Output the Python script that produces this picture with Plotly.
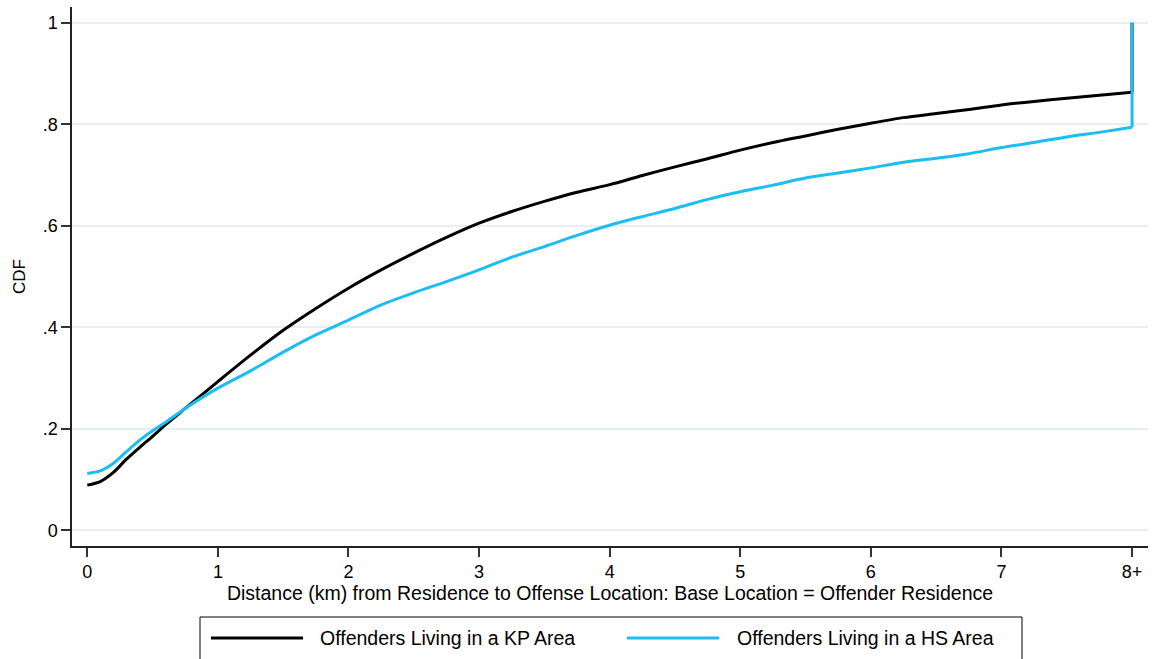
import plotly.graph_objects as go

# Distance grid (km); the last point closes each CDF at the "8+" bin
distance_km = [0.0, 0.1, 0.2, 0.3, 0.4, 0.5, 0.6, 0.75, 1.0, 1.25, 1.5, 1.75, 2.0,
               2.25, 2.5, 2.75, 3.0, 3.25, 3.5, 3.75, 4.0, 4.25, 4.5, 4.75, 5.0,
               5.25, 5.5, 5.75, 6.0, 6.25, 6.5, 6.75, 7.0, 7.25, 7.5, 7.75, 8.0, 8.0]

cdf_kp = [0.089, 0.096, 0.114, 0.140, 0.163, 0.185, 0.208, 0.240, 0.293, 0.345,
          0.394, 0.437, 0.477, 0.513, 0.546, 0.577, 0.605, 0.628, 0.648, 0.666,
          0.681, 0.699, 0.716, 0.732, 0.749, 0.764, 0.777, 0.790, 0.802, 0.813,
          0.821, 0.829, 0.838, 0.845, 0.851, 0.857, 0.863, 1.0]

cdf_hs = [0.112, 0.117, 0.132, 0.155, 0.177, 0.196, 0.213, 0.240, 0.280, 0.314,
          0.351, 0.385, 0.414, 0.444, 0.468, 0.490, 0.513, 0.538, 0.559, 0.581,
          0.601, 0.618, 0.634, 0.652, 0.667, 0.680, 0.694, 0.704, 0.714, 0.725,
          0.733, 0.742, 0.754, 0.764, 0.775, 0.784, 0.794, 1.0]

series_names = ["Offenders Living in a KP Area", "Offenders Living in a HS Area"]
series_colors = ["#000000", "#1cbdf2"]

x_tickvals = [0, 1, 2, 3, 4, 5, 6, 7, 8]
x_ticktext = ["0", "1", "2", "3", "4", "5", "6", "7", "8+"]
y_tickvals = [0, 0.2, 0.4, 0.6, 0.8, 1.0]
y_ticktext = ["0", ".2", ".4", ".6", ".8", "1"]

x_title = "Distance (km) from Residence to Offense Location: Base Location = Offender Residence"
y_title = "CDF"

FONT = "Liberation Sans, Arial, Helvetica, sans-serif"
W, H = 1153, 659
M_L, M_R, M_T, M_B = 72, 5, 7, 113
PLOT_W = W - M_L - M_R
PLOT_H = H - M_T - M_B


def px_to_paper_x(px):
    return (px - M_L) / PLOT_W


def px_to_paper_y(py):
    return (H - M_B - py) / PLOT_H


fig = go.Figure()
for ys, name, color in zip([cdf_kp, cdf_hs], series_names, series_colors):
    # smooth CDF up to 8 km
    fig.add_trace(go.Scatter(
        x=distance_km[:-1], y=ys[:-1], mode="lines", name=name,
        line=dict(color=color, width=3, shape="spline", smoothing=0.8),
        showlegend=False,
    ))
for ys, name, color in zip([cdf_kp, cdf_hs], series_names, series_colors):
    # jump to 1 for the open-ended "8+" bin
    fig.add_trace(go.Scatter(
        x=distance_km[-2:], y=ys[-2:], mode="lines", name=name,
        line=dict(color=color, width=3), showlegend=False,
    ))

# Boxed legend below the axis title, with long line samples
shapes = [dict(type="rect", xref="paper", yref="paper",
               x0=px_to_paper_x(200), x1=px_to_paper_x(1022),
               y0=px_to_paper_y(617), y1=px_to_paper_y(668),
               line=dict(color="#000000", width=1), fillcolor="rgba(0,0,0,0)")]
annotations = []
legend_y = px_to_paper_y(638)
for (sx0, sx1, tx), name, color in zip([(211, 303, 318), (627, 719, 735)],
                                       series_names, series_colors):
    shapes.append(dict(type="line", xref="paper", yref="paper",
                       x0=px_to_paper_x(sx0), x1=px_to_paper_x(sx1),
                       y0=legend_y, y1=legend_y,
                       line=dict(color=color, width=3)))
    annotations.append(dict(text=name, xref="paper", yref="paper",
                            x=px_to_paper_x(tx), y=legend_y,
                            xanchor="left", yanchor="middle", showarrow=False,
                            font=dict(family=FONT, size=19.5, color="#000000")))

fig.update_layout(
    width=W, height=H,
    margin=dict(l=M_L, r=M_R, t=M_T, b=M_B),
    paper_bgcolor="white", plot_bgcolor="white",
    font=dict(family=FONT, size=18, color="#000000"),
    shapes=shapes, annotations=annotations,
    showlegend=False,
)
fig.update_xaxes(
    range=[-0.117, 8.122], tickvals=x_tickvals, ticktext=x_ticktext,
    showgrid=False, zeroline=False,
    showline=True, linecolor="#222222", linewidth=1.5,
    ticks="outside", ticklen=9, tickwidth=1.5, tickcolor="#333333",
    tickfont=dict(size=18),
    title=dict(text=x_title, font=dict(size=19.5), standoff=2),
)
fig.update_yaxes(
    range=[-0.031, 1.031], tickvals=y_tickvals, ticktext=y_ticktext,
    showgrid=True, gridcolor="#e6eff1", gridwidth=1.5, zeroline=False,
    showline=True, linecolor="#222222", linewidth=1.5,
    ticks="outside", ticklen=9, tickwidth=1.5, tickcolor="#333333",
    tickfont=dict(size=18),
    title=dict(text=y_title, font=dict(size=17), standoff=13),
)

fig.write_html("out.html")
